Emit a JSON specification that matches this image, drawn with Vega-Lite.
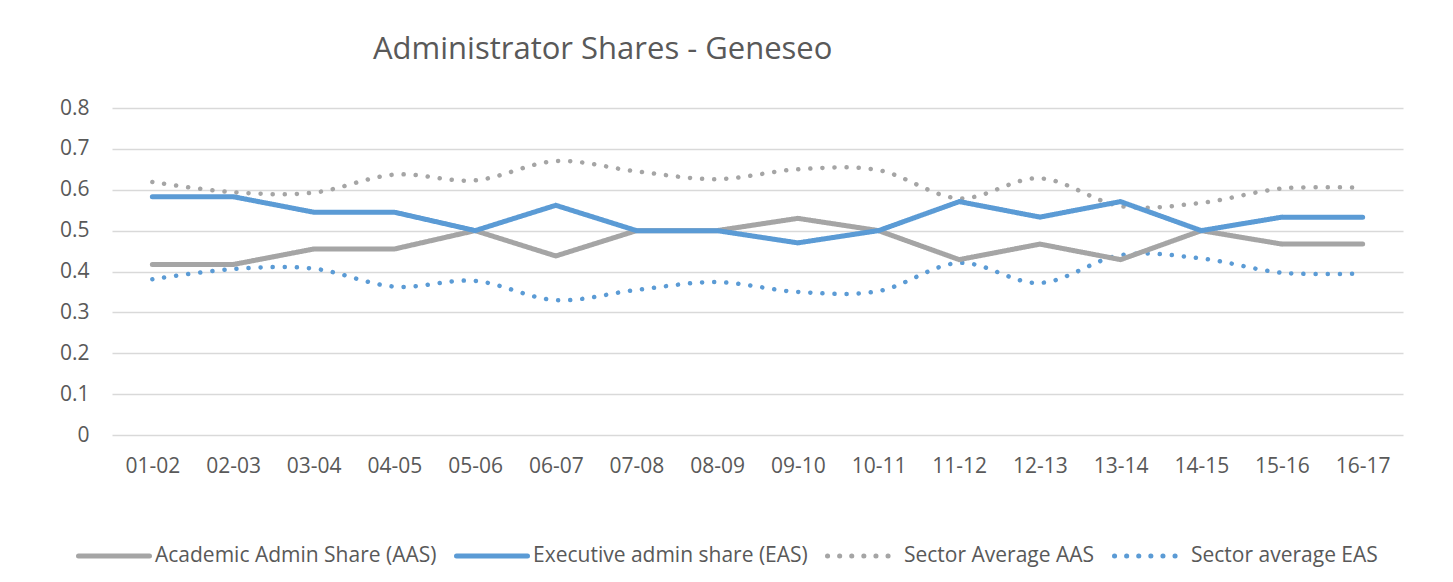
{
  "$schema": "https://vega.github.io/schema/vega-lite/v6.json",
  "autosize": "none",
  "width": 1291,
  "height": 327,
  "padding": {"left": 112, "top": 108, "right": 50, "bottom": 147},
  "background": "white",
  "title": {
    "text": "Administrator Shares - Geneseo",
    "anchor": "start",
    "frame": "group",
    "dx": 261,
    "offset": 7,
    "baseline": "alphabetic",
    "font": "Open Sans",
    "fontSize": 31,
    "fontWeight": "normal",
    "color": "#595959"
  },
  "data": {
    "values": [
      {"year": "01-02", "series": "Academic Admin Share (AAS)", "value": 0.417},
      {"year": "02-03", "series": "Academic Admin Share (AAS)", "value": 0.417},
      {"year": "03-04", "series": "Academic Admin Share (AAS)", "value": 0.455},
      {"year": "04-05", "series": "Academic Admin Share (AAS)", "value": 0.455},
      {"year": "05-06", "series": "Academic Admin Share (AAS)", "value": 0.5},
      {"year": "06-07", "series": "Academic Admin Share (AAS)", "value": 0.438},
      {"year": "07-08", "series": "Academic Admin Share (AAS)", "value": 0.5},
      {"year": "08-09", "series": "Academic Admin Share (AAS)", "value": 0.5},
      {"year": "09-10", "series": "Academic Admin Share (AAS)", "value": 0.53},
      {"year": "10-11", "series": "Academic Admin Share (AAS)", "value": 0.5},
      {"year": "11-12", "series": "Academic Admin Share (AAS)", "value": 0.429},
      {"year": "12-13", "series": "Academic Admin Share (AAS)", "value": 0.467},
      {"year": "13-14", "series": "Academic Admin Share (AAS)", "value": 0.429},
      {"year": "14-15", "series": "Academic Admin Share (AAS)", "value": 0.5},
      {"year": "15-16", "series": "Academic Admin Share (AAS)", "value": 0.467},
      {"year": "16-17", "series": "Academic Admin Share (AAS)", "value": 0.467},
      {"year": "01-02", "series": "Executive admin share (EAS)", "value": 0.583},
      {"year": "02-03", "series": "Executive admin share (EAS)", "value": 0.583},
      {"year": "03-04", "series": "Executive admin share (EAS)", "value": 0.545},
      {"year": "04-05", "series": "Executive admin share (EAS)", "value": 0.545},
      {"year": "05-06", "series": "Executive admin share (EAS)", "value": 0.5},
      {"year": "06-07", "series": "Executive admin share (EAS)", "value": 0.562},
      {"year": "07-08", "series": "Executive admin share (EAS)", "value": 0.5},
      {"year": "08-09", "series": "Executive admin share (EAS)", "value": 0.5},
      {"year": "09-10", "series": "Executive admin share (EAS)", "value": 0.47},
      {"year": "10-11", "series": "Executive admin share (EAS)", "value": 0.5},
      {"year": "11-12", "series": "Executive admin share (EAS)", "value": 0.571},
      {"year": "12-13", "series": "Executive admin share (EAS)", "value": 0.533},
      {"year": "13-14", "series": "Executive admin share (EAS)", "value": 0.571},
      {"year": "14-15", "series": "Executive admin share (EAS)", "value": 0.5},
      {"year": "15-16", "series": "Executive admin share (EAS)", "value": 0.533},
      {"year": "16-17", "series": "Executive admin share (EAS)", "value": 0.533},
      {"year": "01-02", "series": "Sector Average AAS", "value": 0.619},
      {"year": "02-03", "series": "Sector Average AAS", "value": 0.594},
      {"year": "03-04", "series": "Sector Average AAS", "value": 0.593},
      {"year": "04-05", "series": "Sector Average AAS", "value": 0.637},
      {"year": "05-06", "series": "Sector Average AAS", "value": 0.623},
      {"year": "06-07", "series": "Sector Average AAS", "value": 0.67},
      {"year": "07-08", "series": "Sector Average AAS", "value": 0.645},
      {"year": "08-09", "series": "Sector Average AAS", "value": 0.626},
      {"year": "09-10", "series": "Sector Average AAS", "value": 0.65},
      {"year": "10-11", "series": "Sector Average AAS", "value": 0.648},
      {"year": "11-12", "series": "Sector Average AAS", "value": 0.579},
      {"year": "12-13", "series": "Sector Average AAS", "value": 0.628},
      {"year": "13-14", "series": "Sector Average AAS", "value": 0.56},
      {"year": "14-15", "series": "Sector Average AAS", "value": 0.568},
      {"year": "15-16", "series": "Sector Average AAS", "value": 0.603},
      {"year": "16-17", "series": "Sector Average AAS", "value": 0.605},
      {"year": "01-02", "series": "Sector average EAS", "value": 0.381},
      {"year": "02-03", "series": "Sector average EAS", "value": 0.406},
      {"year": "03-04", "series": "Sector average EAS", "value": 0.407},
      {"year": "04-05", "series": "Sector average EAS", "value": 0.363},
      {"year": "05-06", "series": "Sector average EAS", "value": 0.377},
      {"year": "06-07", "series": "Sector average EAS", "value": 0.33},
      {"year": "07-08", "series": "Sector average EAS", "value": 0.355},
      {"year": "08-09", "series": "Sector average EAS", "value": 0.374},
      {"year": "09-10", "series": "Sector average EAS", "value": 0.35},
      {"year": "10-11", "series": "Sector average EAS", "value": 0.352},
      {"year": "11-12", "series": "Sector average EAS", "value": 0.421},
      {"year": "12-13", "series": "Sector average EAS", "value": 0.372},
      {"year": "13-14", "series": "Sector average EAS", "value": 0.44},
      {"year": "14-15", "series": "Sector average EAS", "value": 0.432},
      {"year": "15-16", "series": "Sector average EAS", "value": 0.397},
      {"year": "16-17", "series": "Sector average EAS", "value": 0.395}
    ]
  },
  "encoding": {
    "x": {
      "field": "year",
      "type": "ordinal",
      "sort": null,
      "scale": {"type": "point", "padding": 0.5},
      "axis": {
        "title": null,
        "labelAngle": 0,
        "ticks": false,
        "domain": false,
        "grid": false,
        "labelPadding": 20,
        "labelFont": "Open Sans",
        "labelFontSize": 21,
        "labelColor": "#595959"
      }
    },
    "y": {
      "field": "value",
      "type": "quantitative",
      "scale": {"domain": [0, 0.8], "nice": false},
      "axis": {
        "title": null,
        "values": [0, 0.1, 0.2, 0.3, 0.4, 0.5, 0.6, 0.7, 0.8],
        "format": ".1~f",
        "ticks": false,
        "domain": false,
        "grid": true,
        "gridColor": "#D9D9D9",
        "gridWidth": 1.3,
        "labelPadding": 23,
        "labelFont": "Open Sans",
        "labelFontSize": 21,
        "labelColor": "#595959"
      }
    },
    "color": {
      "field": "series",
      "type": "nominal",
      "scale": {
        "domain": ["Academic Admin Share (AAS)", "Executive admin share (EAS)", "Sector Average AAS", "Sector average EAS"],
        "range": ["#A5A5A5", "#5B9BD5", "#A5A5A5", "#5B9BD5"]
      },
      "legend": {
        "title": null,
        "orient": "none",
        "direction": "horizontal",
        "legendX": -36,
        "legendY": 410,
        "symbolType": "stroke",
        "symbolSize": 5041,
        "symbolStrokeWidth": 5,
        "labelFont": "Open Sans",
        "labelFontSize": 21,
        "labelColor": "#595959",
        "labelOffset": 3,
        "columnPadding": 9,
        "labelLimit": 500,
        "encode": {"symbols": {"update": {"strokeCap": {"value": "round"}}}}
      }
    },
    "strokeDash": {
      "field": "series",
      "type": "nominal",
      "scale": {
        "domain": ["Academic Admin Share (AAS)", "Executive admin share (EAS)", "Sector Average AAS", "Sector average EAS"],
        "range": [[1, 0], [1, 0], [0.1, 12], [0.1, 12]]
      }
    }
  },
  "layer": [
    {
      "transform": [{"filter": "indexof(datum.series, 'Sector') == 0"}],
      "mark": {"type": "line", "interpolate": "cardinal", "strokeWidth": 4.5, "strokeCap": "round"}
    },
    {
      "transform": [{"filter": "indexof(datum.series, 'Sector') != 0"}],
      "mark": {"type": "line", "strokeWidth": 5, "strokeCap": "round", "strokeJoin": "miter"}
    }
  ],
  "config": {"view": {"stroke": null}}
}
